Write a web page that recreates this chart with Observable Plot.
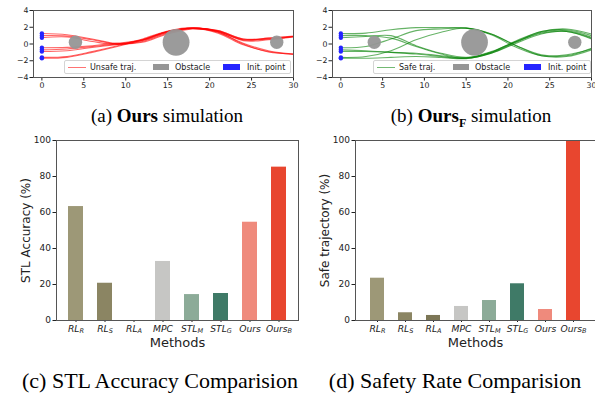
<!DOCTYPE html>
<html><head><meta charset="utf-8">
<script src="https://cdn.jsdelivr.net/npm/d3@7"></script>
<script src="https://cdn.jsdelivr.net/npm/@observablehq/plot@0.6"></script>
<style>
body{margin:0;background:#fff;}
#fig{position:relative;width:595px;height:394px;overflow:hidden;font-family:"DejaVu Sans";}
.p{position:absolute;}
.cap{position:absolute;font-family:"Liberation Serif";white-space:nowrap;transform:translateX(-50%);color:#000;}
.leg{position:absolute;border:1px solid #d4d4d4;border-radius:2px;background:rgba(255,255,255,0.85);font-size:8px;height:14px;box-sizing:border-box;color:#222;}
.leg span{position:absolute;}
.leg .t{top:1.5px;line-height:10px;}
</style></head>
<body><div id="fig"></div>
<script>
// ---------- data ----------
const trajX = [0, 3, 6, 9, 12, 15, 18, 21, 24, 27, 30];
const unsafeY = [
  [1.25, 1.1, 0.6, 0.05, 0.3, 1.3, 1.85, 1.6, 0.6, 0.6, 0.9],
  [1.0, 0.95, 0.5, 0.0, 0.2, 1.2, 1.8, 1.5, 0.5, 0.7, 0.95],
  [0.75, 0.85, 0.3, -0.05, 0.4, 1.4, 1.9, 1.5, 0.4, 0.5, 0.85],
  [-0.45, -0.4, -0.2, 0.1, 0.5, 1.5, 1.85, 1.4, 0.1, -0.8, -1.2],
  [-0.7, -0.6, -0.3, 0.0, 0.45, 1.45, 1.9, 1.55, 0.5, 0.6, 0.9],
  [-0.9, -0.8, -0.4, -0.05, 0.5, 1.5, 1.85, 1.3, -0.1, -0.9, -1.25],
  [-1.6, -1.5, -0.9, -0.2, 0.6, 1.55, 1.95, 1.45, 0.0, -0.95, -1.2],
  [-1.7, -1.6, -1.0, -0.3, 0.5, 1.5, 1.9, 1.6, 0.6, 0.7, 0.9]
];
const safeY = [
  [1.25, 1.3, 1.7, 1.95, 1.95, 1.9, 1.1, -0.4, -1.4, -1.3, -0.6],
  [1.0, 1.0, 0.7, -0.3, -1.2, -1.7, -1.1, 0.2, 1.4, 1.6, 0.8],
  [0.75, 0.9, 1.0, -0.2, -1.1, -1.6, -1.0, 0.3, 1.5, 1.7, 1.0],
  [-0.45, -0.3, 0.6, 1.6, 1.8, 1.9, 1.2, -0.2, -1.3, -1.4, -0.5],
  [-0.7, -0.8, -1.0, -1.2, -1.5, -1.7, -1.0, 0.4, 1.5, 1.8, 1.2],
  [-0.9, -0.9, -1.0, -1.1, -1.4, -1.65, -0.9, 0.3, 1.3, 1.5, 0.7],
  [-1.6, -1.5, -0.8, 0.5, 1.4, 1.9, 1.2, -0.2, -1.4, -1.5, -0.7],
  [-1.7, -1.7, -1.6, -1.5, -1.6, -1.75, -1.1, 0.1, 1.2, 1.5, 0.6]
];
const initY = [1.25, 1.0, 0.75, -0.45, -0.7, -0.9, -1.6, -1.7];
const obstacleX = [4, 16, 28];
const obstacleY = [0.2, 0.2, 0.2];
const obstacleR = [0.8, 1.6, 0.8];
const trajXTicks = [0, 5, 10, 15, 20, 25, 30];
const trajYTicks = [-4, -2, 0, 2, 4];

const methods = ["RL_R", "RL_S", "RL_A", "MPC", "STL_M", "STL_G", "Ours", "Ours_B"];
const stlAccuracy = [63.3, 20.7, 0, 32.8, 14.4, 15.0, 54.6, 85.2];
const safeRate = [23.5, 4.3, 2.8, 7.8, 11.1, 20.4, 6.1, 100];
const barColors = ["#9d9877", "#8b8563", "#7c7656", "#c6c6c4", "#8cab98", "#3f7a67", "#ef8a7c", "#e8462f"];
const barYTicks = [0, 20, 40, 60, 80, 100];

// ---------- helpers ----------
const fig = document.getElementById("fig");
function place(el, left, top) {
  const d = document.createElement("div");
  d.className = "p"; d.style.left = left + "px"; d.style.top = top + "px";
  d.appendChild(el); fig.appendChild(d); return d;
}
const minus = d => (d < 0 ? "\u2212" + Math.abs(d) : String(d));

function trajPlot(ys, color, w, ml, mr) {
  const rows = ys.flatMap((arr, i) => arr.map((y, j) => ({x: trajX[j], y, id: i})));
  const obs = obstacleX.map((x, i) => ({x, y: obstacleY[i], r: obstacleR[i]}));
  const init = initY.map(y => ({x: 0, y}));
  const pxPerUnit = (w - ml - mr) / 31;
  return Plot.plot({
    width: w, height: 95, marginLeft: ml, marginRight: mr, marginTop: 10, marginBottom: 18,
    x: {domain: [-1, 30], ticks: trajXTicks, tickSize: 3.5, tickPadding: 1.5, label: null, tickFormat: minus},
    y: {domain: [-4, 4], ticks: trajYTicks, tickSize: 3.5, tickPadding: 1.5, label: null, tickFormat: minus},
    r: {type: "linear", domain: [0, 1], range: [0, pxPerUnit]},
    style: {fontFamily: "DejaVu Sans", fontSize: "7.8px", color: "#222", background: "transparent", overflow: "visible"},
    marks: [
      Plot.line(rows, {x: "x", y: "y", z: "id", stroke: color, strokeOpacity: 0.6, strokeWidth: 1.1, curve: "catmull-rom"}),
      Plot.dot(obs, {x: "x", y: "y", r: "r", fill: "#969696", fillOpacity: 0.95}),
      Plot.dot(init, {x: "x", y: "y", r: 2.2, fill: "#2424ff"}),
      Plot.frame({stroke: "#555"})
    ]
  });
}

function barPlot(vals, w, ml, mr, ylabel) {
  const data = methods.map((m, i) => ({m, v: vals[i], c: barColors[i]}));
  const svg = Plot.plot({
    width: w, height: 230, marginLeft: ml, marginRight: mr, marginTop: 10, marginBottom: 40,
    x: {domain: methods, paddingInner: 0.5, paddingOuter: 0.4, tickSize: 2, tickPadding: 2.5,
        label: "Methods", labelAnchor: "center", labelOffset: 26},
    y: {domain: [0, 100], ticks: barYTicks, tickSize: 3.5, tickPadding: 2,
        label: ylabel, labelAnchor: "center", labelOffset: 35},
    style: {fontFamily: "DejaVu Sans", fontSize: "9px", color: "#222", background: "transparent", overflow: "visible"},
    marks: [
      Plot.barY(data, {x: "m", y: "v", fill: "c"}),
      Plot.frame({stroke: "#555"})
    ]
  });
  // subscripts and italics on method labels
  svg.querySelectorAll('g[aria-label="x-axis tick label"] text').forEach(t => {
    const s = t.textContent; const k = s.indexOf("_");
    t.style.fontStyle = "italic";
    t.style.fontSize = "9.2px";
    if (k >= 0) {
      t.textContent = "";
      const a = document.createElementNS("http://www.w3.org/2000/svg", "tspan");
      a.textContent = s.slice(0, k);
      const b = document.createElementNS("http://www.w3.org/2000/svg", "tspan");
      b.textContent = s.slice(k + 1); b.style.fontSize = "6.5px"; b.setAttribute("dy", "0.3em");
      t.appendChild(a); t.appendChild(b);
    }
  });
  svg.querySelectorAll('g[aria-label="y-axis label"] text').forEach(t => { t.textContent = ylabel; t.style.fontSize = "12px"; t.style.whiteSpace = "pre"; });
  svg.querySelectorAll('g[aria-label="x-axis label"] text').forEach(t => { t.textContent = "Methods"; t.style.fontSize = "13px"; });
  return svg;
}

// ---------- panels ----------
place(trajPlot(unsafeY, "red", 300, 33, 7), 0, 0);
place(trajPlot(safeY, "green", 295, 32, 4), 300, 0);
place(barPlot(stlAccuracy, 300, 56, 2, "STL Accuracy (%)"), 0, 130);
place(barPlot(safeRate, 295, 55, 0, "Safe trajectory (%)"), 300, 130);

// ---------- legends ----------
function legend(left, width, lineColor, label, pos) {
  const d = document.createElement("div");
  d.className = "leg"; d.style.left = left + "px"; d.style.top = "60px"; d.style.width = width + "px";
  d.innerHTML =
    `<span style="left:3px;top:6px;width:18px;height:0;border-top:1px solid ${lineColor};opacity:0.55"></span>` +
    `<span class="t" style="left:25px">${label}</span>` +
    `<span style="left:${pos[0]}px;top:3px;width:16px;height:6px;background:#969696"></span>` +
    `<span class="t" style="left:${pos[0] + 22}px">Obstacle</span>` +
    `<span style="left:${pos[1]}px;top:3px;width:17px;height:6px;background:#2424ff"></span>` +
    `<span class="t" style="left:${pos[1] + 24}px">Init. point</span>`;
  fig.appendChild(d);
}
legend(64, 227, "red", "Unsafe traj.", [88, 158]);
legend(373, 218, "green", "Safe traj.", [79, 150]);

// ---------- captions ----------
function caption(html, cx, top, size) {
  const d = document.createElement("div");
  d.className = "cap"; d.style.left = cx + "px"; d.style.top = top + "px";
  d.style.fontSize = size + "px"; d.style.lineHeight = size + "px"; d.innerHTML = html;
  fig.appendChild(d);
}
caption("(a) <b>Ours</b> simulation", 167, 106, 19);
caption("(b) <b>Ours<sub style=\"font-size:12px;line-height:0\">F</sub></b> simulation", 471, 106, 19);
caption("(c) STL Accuracy Comparision", 160, 370, 22);
caption("(d) Safety Rate Comparision", 455, 370, 22);
</script></body></html>
